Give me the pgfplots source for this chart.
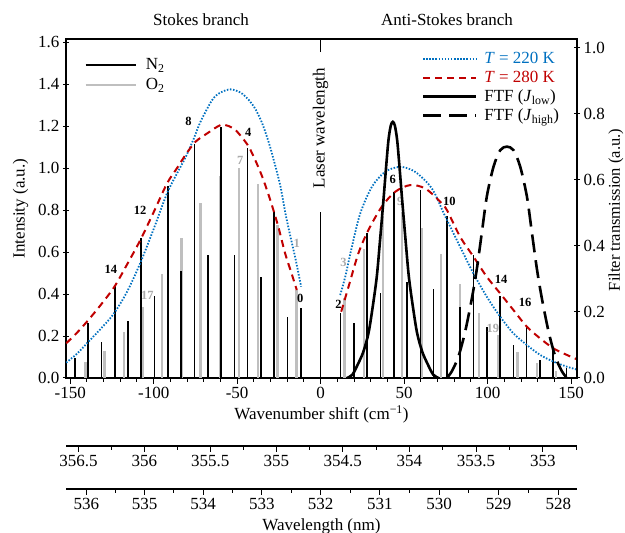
\documentclass[border=0pt]{standalone}
\usepackage{fontspec}
\setmainfont{Liberation Serif}
\usepackage{pgfplots}
\pgfplotsset{compat=1.18}
\definecolor{tblue}{RGB}{0,112,192}
\definecolor{tred}{RGB}{192,0,0}
\definecolor{ogrey}{RGB}{191,191,191}
\definecolor{lgrey}{RGB}{170,170,170}
\newcommand{\fs}{\fontsize{17}{20}\selectfont}
\newcommand{\bl}{\fontsize{12.5}{13}\selectfont\bfseries}
\pgfplotsset{
  myaxis/.style={
    scale only axis, width=511pt, height=339pt,
    xmin=-152.5, xmax=153.5,
    font=\fs,
    tick label style={font=\fs},
    /pgf/number format/assume math mode=true,
    axis line style={line width=1.2pt},
    major tick length=6pt, minor tick length=4pt,
    every tick/.style={black, line width=1pt},
  },
  botaxis/.style={
    scale only axis, width=511pt, height=10pt,
    xmin=-152.5, xmax=153.5, ymin=0, ymax=1,
    font=\fs, tick label style={font=\fs},
    axis y line=none, axis x line*=bottom,
    axis line style={line width=1.6pt},
    tick align=outside,
    major tick length=6pt, minor tick length=4pt,
    every tick/.style={black, line width=1pt},
  },
}
\begin{document}
\begin{tikzpicture}
\path[use as bounding box] (0pt,0pt) rectangle (625pt,533pt);
% ---------------- main axis (left: intensity) ----------------
\begin{axis}[myaxis, at={(66pt,155pt)}, anchor=south west,
  ymin=0, ymax=1.615,
  xtick={-150,-100,-50,0,50,100,150}, minor x tick num=4,
  ytick={0,0.2,0.4,0.6,0.8,1.0,1.2,1.4,1.6},
  tick pos=left,
  xtick align=outside, ytick align=center,
  yticklabel style={/pgf/number format/.cd, fixed, fixed zerofill, precision=1},
  xlabel={Wavenumber shift (cm\textsuperscript{−1})},
  ylabel={Intensity (a.u.)},
  ylabel style={yshift=3pt},
  legend style={draw=none, fill=none, at={(0.03,0.955)}, anchor=north west, font=\fs,
    row sep=3.5pt, /tikz/every odd column/.append style={column sep=7pt}},
  legend cell align=left,
  legend image code/.code={\draw[#1] (0pt,0pt) -- (50pt,0pt);},
]
\addlegendimage{black, line width=1.6pt}\addlegendentry{N\textsubscript{2}}
\addlegendimage{ogrey, line width=2.4pt}\addlegendentry{O\textsubscript{2}}
% O2 lines
\addplot[ycomb, no marks, ogrey, line width=2.4pt, forget plot] coordinates {
(-140.89,0.077) (-129.39,0.129) (-117.89,0.218) (-106.39,0.337) (-94.89,0.495)
(-83.39,0.665) (-71.88,0.835) (-60.38,0.963) (-48.88,1.000) (-37.38,0.924)
(-25.88,0.731) (-14.38,0.421)
(14.38,0.38) (25.88,0.613) (37.38,0.770) (48.88,0.789) (60.38,0.716)
(71.88,0.590) (83.39,0.448) (94.89,0.312) (106.39,0.205) (117.89,0.125)
(129.39,0.070) (140.89,0.035)
};
% N2 lines
\addplot[ycomb, no marks, black, line width=1.6pt, forget plot] coordinates {
(-11.93,0.334) (-19.89,0.291) (-27.85,0.795) (-35.80,0.481) (-43.76,1.096)
(-51.71,0.586) (-59.67,1.197) (-67.63,0.586) (-75.58,1.114) (-83.54,0.511)
(-91.49,0.913) (-99.45,0.392) (-107.41,0.665) (-115.36,0.272) (-123.32,0.440)
(-131.27,0.170) (-139.23,0.264) (-147.19,0.093)
(11.93,0.311) (19.89,0.263) (27.85,0.690) (35.80,0.407) (43.76,0.884)
(51.71,0.456) (59.67,0.896) (67.63,0.422) (75.58,0.770) (83.54,0.338)
(91.49,0.586) (99.45,0.242) (107.41,0.390) (115.36,0.157) (123.32,0.246)
(131.27,0.088) (139.23,0.133) (147.19,0.047)
};
% laser line
\addplot[black, line width=1.3pt, forget plot] coordinates {(0,0) (0,0.79)};
\addplot[black, line width=1.3pt, forget plot] coordinates {(0,1.552) (0,1.615)};
\node[rotate=90, font=\fs] at (axis cs:0,1.19) {Laser wavelength};
% T = 220 K envelope
\addplot[smooth, tblue, line width=1.8pt, dash pattern=on 1.5pt off 1.6pt, forget plot] coordinates {
(-152.4,0.073) (-146,0.115) (-140,0.165) (-132,0.232) (-124,0.305) (-116,0.41)
(-108,0.548) (-100,0.71) (-92,0.88) (-86,0.975) (-81,1.05) (-76,1.14) (-72,1.22)
(-65,1.324) (-60,1.36) (-54,1.375) (-48,1.36) (-43,1.324) (-39,1.28) (-35,1.213)
(-31,1.12) (-27,1.006) (-24,0.91) (-21,0.78) (-18,0.67) (-15,0.565) (-11.7,0.435)
};
\addplot[smooth, tblue, line width=1.8pt, dash pattern=on 1.5pt off 1.6pt, forget plot] coordinates {
(11.7,0.395) (14.7,0.482) (18.7,0.625) (23.7,0.784) (30.7,0.911) (38.6,0.982)
(47.6,1.006) (56.6,0.982) (66.6,0.903) (74,0.78) (83.5,0.625) (91.5,0.498)
(99.5,0.387) (107.5,0.292) (115.4,0.213) (123.5,0.157) (131.4,0.11) (139.4,0.078)
(147.4,0.054) (153.5,0.04)
};
% T = 280 K envelope
\addplot[smooth, tred, line width=2pt, dash pattern=on 7pt off 5pt, forget plot] coordinates {
(-152.4,0.165) (-146,0.215) (-140,0.268) (-132,0.345) (-123.5,0.435) (-116,0.54)
(-108,0.657) (-100,0.79) (-92,0.927) (-86,1.0) (-81,1.062) (-75,1.125) (-68,1.165)
(-60,1.205) (-55,1.2) (-51,1.181) (-47,1.145) (-43,1.101) (-39,1.035) (-35,0.959)
(-31.5,0.88) (-28.3,0.8) (-25,0.71) (-21.3,0.594) (-17.5,0.5) (-14.3,0.419)
};
\addplot[smooth, tred, line width=2pt, dash pattern=on 7pt off 5pt, forget plot] coordinates {
(12.3,0.316) (16.7,0.435) (22.6,0.594) (28.6,0.705) (36.6,0.816) (44.6,0.887)
(53.6,0.919) (62.6,0.903) (71.6,0.84) (75.6,0.80) (83.5,0.673) (91.5,0.578)
(99.5,0.482) (107.5,0.403) (115.4,0.324) (123.5,0.244) (131.4,0.189) (139.4,0.141)
(147.4,0.11) (153.5,0.089)
};
% line labels
\node[font=\bl] at (axis cs:-79.1,1.221) {8};
\node[font=\bl] at (axis cs:-43.3,1.168) {4};
\node[font=\bl] at (axis cs:-108.1,0.80) {12};
\node[font=\bl] at (axis cs:-125.7,0.517) {14};
\node[font=\bl] at (axis cs:-12.2,0.379) {0};
\node[font=\bl, text=lgrey] at (axis cs:-48.2,1.038) {7};
\node[font=\bl, text=lgrey] at (axis cs:-14.3,0.641) {1};
\node[font=\bl, text=lgrey] at (axis cs:-103.7,0.395) {17};
\node[font=\bl] at (axis cs:10.7,0.352) {2};
\node[font=\bl] at (axis cs:43.2,0.948) {6};
\node[font=\bl] at (axis cs:77.1,0.84) {10};
\node[font=\bl] at (axis cs:108.1,0.470) {14};
\node[font=\bl] at (axis cs:122.5,0.358) {16};
\node[font=\bl, text=lgrey] at (axis cs:13.7,0.552) {3};
\node[font=\bl, text=lgrey] at (axis cs:47.6,0.84) {9};
\node[font=\bl, text=lgrey] at (axis cs:103.1,0.237) {19};
\end{axis}
% ---------------- right axis (filter transmission) ----------------
\begin{axis}[myaxis, at={(66pt,155pt)}, anchor=south west,
  ymin=0, ymax=1.027,
  axis x line=none, axis y line*=right,
  ytick={0,0.2,0.4,0.6,0.8,1.0}, ytick align=center,
  yticklabel style={/pgf/number format/.cd, fixed, fixed zerofill, precision=1},
  legend style={draw=none, fill=none, at={(0.69,0.972)}, anchor=north west, font=\fs,
    row sep=1.8pt, /tikz/every odd column/.append style={column sep=5pt}},
  legend cell align=left,
  legend image code/.code={\draw[#1] (0pt,0pt) -- (53pt,0pt);},
]
\addlegendimage{tblue, line width=1.8pt, dash pattern=on 1.5pt off 1.6pt}
\addlegendentry{\textcolor{tblue}{\textit{T} = 220 K}}
\addlegendimage{tred, line width=2pt, dash pattern=on 7pt off 5pt}
\addlegendentry{\textcolor{tred}{\textit{T} = 280 K}}
\addplot[smooth, black, line width=2.6pt] coordinates {
(15.7,0) (19,0.01) (22.6,0.045) (25.6,0.08) (28.6,0.135) (31,0.21) (33.6,0.307)
(35.6,0.42) (37.6,0.539) (39.2,0.64) (40.6,0.721) (42,0.765) (43.2,0.776)
(44.4,0.765) (45.8,0.721) (47.2,0.64) (48.8,0.539) (50.8,0.42) (52.8,0.307)
(55.4,0.21) (57.8,0.135) (60.8,0.08) (63.8,0.045) (67.4,0.01) (70.7,0)
};
\addlegendentry{FTF (\textit{J}\textsubscript{low})}
\addplot[smooth, black, line width=2.6pt, dash pattern=on 18pt off 8pt] coordinates {
(75.5,0) (78.5,0.02) (82.5,0.065) (86.5,0.14) (90.5,0.24) (93.5,0.33) (96.5,0.44)
(99.5,0.55) (103.5,0.64) (107.5,0.69) (111.5,0.701) (115.5,0.69) (119.5,0.64)
(123.5,0.55) (126.5,0.44) (129.5,0.33) (132.5,0.24) (136.5,0.14) (140.5,0.065)
(144.5,0.02) (147.5,0)
};
\addlegendentry{FTF (\textit{J}\textsubscript{high})}
\end{axis}
\node[rotate=90, font=\fontsize{16.5}{18}\selectfont] at (616pt,323pt) {Filter transmission (a.u.)};
% ---------------- 355 nm wavelength axis ----------------
\begin{axis}[botaxis, at={(66pt,87pt)}, anchor=south west,
  xtick={-145.0,-105.6,-66.09,-26.48,13.26,53.10,93.05,133.12},
  xticklabels={356.5,356,355.5,355,354.5,354,353.5,353},
  minor xtick={-125.31,-85.86,-46.30,-6.62,33.16,73.06,113.07,153.2},
]
\addplot[draw=none] coordinates {(0,0.5)};
\end{axis}
% ---------------- 532 nm wavelength axis ----------------
\begin{axis}[botaxis, at={(66pt,44pt)}, anchor=south west,
  xtick={-140.28,-105.40,-70.40,-35.27,0,35.40,70.93,106.60,142.40},
  xticklabels={536,535,534,533,532,531,530,529,528},
  minor xtick={-122.86,-87.92,-52.85,-17.65,17.68,53.15,88.75,124.48},
  xlabel={Wavelength (nm)},
  xlabel style={yshift=-2pt},
]
\addplot[draw=none] coordinates {(0,0.5)};
\end{axis}
% titles
\node[font=\fs] at (201pt,513pt) {Stokes branch};
\node[font=\fs] at (447pt,513pt) {Anti-Stokes branch};
\end{tikzpicture}
\end{document}
